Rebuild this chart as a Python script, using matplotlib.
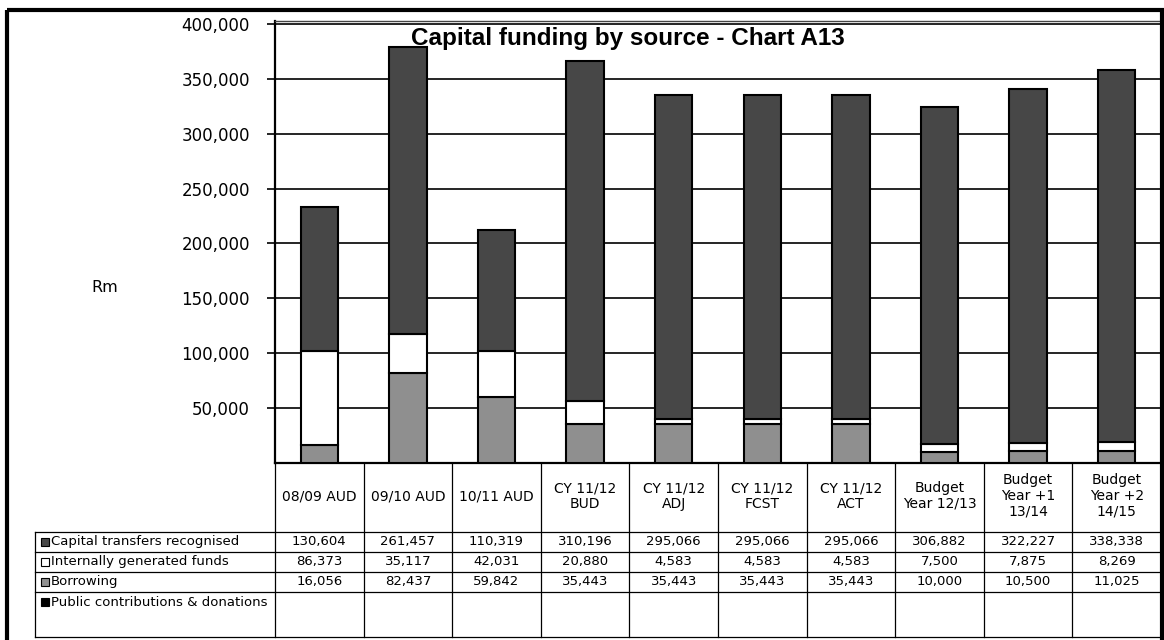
import numpy as np
import matplotlib
matplotlib.use("Agg")
import matplotlib.pyplot as plt
from matplotlib.patches import Rectangle
from matplotlib.ticker import FuncFormatter
from matplotlib.transforms import blended_transform_factory

plt.rcParams["font.family"] = ["DejaVu Sans"]

# data
categories = ["08/09 AUD", "09/10 AUD", "10/11 AUD", "CY 11/12\nBUD", "CY 11/12\nADJ",
              "CY 11/12\nFCST", "CY 11/12\nACT", "Budget\nYear 12/13",
              "Budget\nYear +1\n13/14", "Budget\nYear +2\n14/15"]
capital = [130604, 261457, 110319, 310196, 295066, 295066, 295066, 306882, 322227, 338338]
internal = [86373, 35117, 42031, 20880, 4583, 4583, 4583, 7500, 7875, 8269]
borrowing = [16056, 82437, 59842, 35443, 35443, 35443, 35443, 10000, 10500, 11025]
public = [None] * 10

series_names = ["Capital transfers recognised", "Internally generated funds",
                "Borrowing", "Public contributions & donations"]
series_colors = ["#474747", "#ffffff", "#8f8f8f", "#000000"]

W, H = 1164, 640
fig = plt.figure(figsize=(W / 100, H / 100), dpi=100)
fig.patch.set_facecolor("white")


def fx(px):
    return px / W


def fy(py):
    return 1 - py / H


# main plot area
ax = fig.add_axes([fx(275), fy(463), fx(1161) - fx(275), fy(21) - fy(463)])
x = np.arange(len(categories))
bw = 0.42
borrow = np.array(borrowing)
intern = np.array(internal)
ax.bar(x, borrow, bw, color=series_colors[2], edgecolor="black", linewidth=1.5, zorder=3)
ax.bar(x, intern, bw, bottom=borrow, color=series_colors[1], edgecolor="black", linewidth=1.5, zorder=3)
ax.bar(x, capital, bw, bottom=borrow + intern, color=series_colors[0], edgecolor="black", linewidth=1.5, zorder=3)

ax.set_xlim(-0.5, len(categories) - 0.5)
ax.set_ylim(0, 402700)
ax.set_yticks(range(50000, 400001, 50000))
ax.yaxis.set_major_formatter(FuncFormatter(lambda v, p: f"{v:,.0f}"))
ax.tick_params(axis="y", direction="out", length=6, width=1.2, pad=12, labelsize=12)
ax.set_xticks([])
ax.grid(axis="y", color="black", linewidth=1.2, zorder=0)
ax.set_axisbelow(True)
for side in ["left", "bottom"]:
    ax.spines[side].set_linewidth(1.6)
for side in ["top", "right"]:
    ax.spines[side].set_linewidth(1.0)
    ax.spines[side].set_color("#444444")

fig.text(fx(628), fy(39), "Capital funding by source - Chart A13", ha="center", va="center",
         fontsize=17.5, fontweight="bold", family=["Liberation Sans", "DejaVu Sans"])
fig.text(fx(105), fy(288), "Rm", ha="center", va="center", fontsize=11.5)

# data table under the chart, pixel coords for rows, data coords for columns
tab = fig.add_axes([0, 0, 1, 1], facecolor="none")
tab.set_xlim(0, W)
tab.set_ylim(H, 0)
tab.axis("off")
trans = blended_transform_factory(ax.transData, tab.transData)

row_tops = [532, 552, 572, 592, 637]
lk = dict(color="black", linewidth=0.9, clip_on=False)

for k in range(len(categories) + 1):
    tab.plot([k - 0.5, k - 0.5], [463, 637], transform=trans, **lk)
tab.plot([35, 35], [532, 637], **lk)
for yy in row_tops:
    tab.plot([35, 1161], [yy, yy], **lk)

for i, cat in enumerate(categories):
    tab.text(i, 496, cat, transform=trans, ha="center", va="center",
             fontsize=10, linespacing=1.15, multialignment="center")

rows = [capital, internal, borrowing, public]
for r, (name, vals, col) in enumerate(zip(series_names, rows, series_colors)):
    yc = (row_tops[r] + row_tops[r] + 20) / 2
    tab.add_patch(Rectangle((41, yc - 4), 8, 8, facecolor=col, edgecolor="black",
                            linewidth=0.8, clip_on=False))
    tab.text(51, yc, name, ha="left", va="center", fontsize=9.5)
    for i, v in enumerate(vals):
        if v is not None:
            tab.text(i, yc, f"{v:,}", transform=trans, ha="center", va="center", fontsize=9.5)

# outer frame
tab.add_patch(Rectangle((7, 10), 1155, 640, fill=False, edgecolor="black", linewidth=3, clip_on=False))

fig.savefig("out.png", dpi=100)
